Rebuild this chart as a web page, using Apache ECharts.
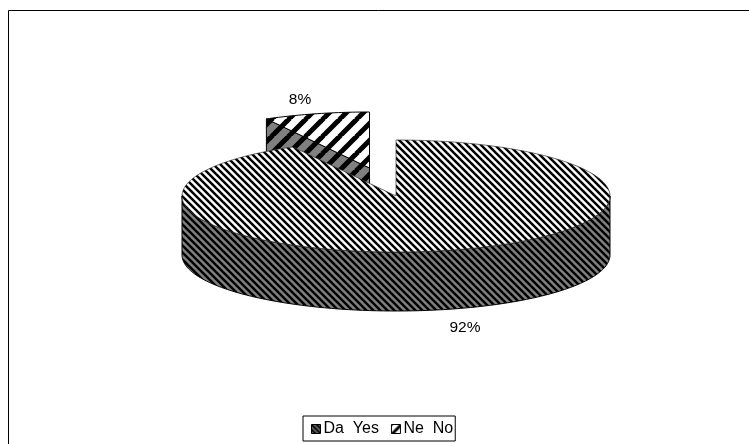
<!DOCTYPE html>
<html><head><meta charset="utf-8">
<style>html,body{margin:0;padding:0;background:#fff}#c{width:749px;height:444px}</style>
<script src="https://cdn.jsdelivr.net/npm/echarts@6/dist/echarts.min.js"></script>
</head><body><div id="c"></div>
<script>
const categories = ['Da  Yes', 'Ne  No'];
const values = [92, 8];

function hatch(period, dir, bg, fg, lw) {
  const c = document.createElement('canvas');
  c.width = c.height = period;
  const g = c.getContext('2d');
  g.fillStyle = bg; g.fillRect(0, 0, period, period);
  g.strokeStyle = fg; g.lineWidth = lw;
  for (let k = -1; k <= 1; k++) {
    g.beginPath();
    if (dir > 0) { g.moveTo(k * period - 1, -1); g.lineTo(k * period + period + 1, period + 1); }
    else { g.moveTo(k * period - 1, period + 1); g.lineTo(k * period + period + 1, -1); }
    g.stroke();
  }
  return { image: c, repeat: 'repeat' };
}
const fillYesTop = hatch(7, 1, '#ffffff', '#000000', 2.5);
const fillYesSide = hatch(7, 1, '#808080', '#000000', 2.5);
const fillNoTop = hatch(17, -1, '#ffffff', '#000000', 5);
const fillNoSide = hatch(17, -1, '#808080', '#000000', 5);
const fillSwatchYes = hatch(5, 1, '#808080', '#000000', 2);
const fillSwatchNo = hatch(10, -1, '#ffffff', '#000000', 3);

const total = values.reduce((a, b) => a + b, 0);
const CX = 396, CY = 196, RX = 214, RY = 56, DEPTH = 59;
const OFFX = -26.5, OFFY = -28;

function pt(cx, cy, a) { return [cx + RX * Math.sin(a), cy - RY * Math.cos(a)]; }
function arc(cx, cy, a0, a1, dy) {
  const n = Math.max(4, Math.ceil(Math.abs(a1 - a0) * 60)), out = [];
  for (let i = 0; i <= n; i++) { const p = pt(cx, cy, a0 + (a1 - a0) * i / n); out.push([p[0], p[1] + (dy || 0)]); }
  return out;
}
function poly(points, fill, stroke, lineWidth) {
  return { type: 'polygon', shape: { points }, style: { fill, stroke: stroke || '#000', lineWidth: lineWidth || 1 } };
}
function label(text, x, y) {
  return { type: 'text', style: { text, x, y, fill: '#000', font: '15.5px "Liberation Sans"', align: 'center', verticalAlign: 'middle' }, z2: 10 };
}
const TAU = Math.PI * 2;
const yesEnd = values[0] / total * TAU;

function renderYes(params, api) {
  const cx = CX, cy = CY;
  const kids = [];
  const a0 = Math.PI / 2, a1 = Math.PI * 1.5;
  const wall = arc(cx, cy, a0, a1, 0).concat(arc(cx, cy, a1, a0, DEPTH));
  kids.push(poly(wall, fillYesSide));
  kids.push(poly([[cx, cy]].concat(arc(cx, cy, 0, yesEnd)), fillYesTop, '#333', 0.7));
  kids.push(label(Math.round(api.value(0) / total * 100) + '%', 465, 328));
  return { type: 'group', children: kids };
}
function renderNo(params, api) {
  const cx = CX + OFFX, cy = CY + OFFY;
  const kids = [];
  const edge = pt(cx, cy, yesEnd);
  kids.push(poly([[edge[0], edge[1]], [cx, cy], [cx, cy + DEPTH], [edge[0], edge[1] + DEPTH]], fillNoSide));
  kids.push(poly([[cx, cy]].concat(arc(cx, cy, yesEnd, TAU)), fillNoTop));
  kids.push(label(Math.round(api.value(0) / total * 100) + '%', 300, 100));
  return { type: 'group', children: kids };
}

const chart = echarts.init(document.getElementById('c'), null, { renderer: 'canvas' });
chart.setOption({
  backgroundColor: '#fff',
  animation: false,
  graphic: [
    { type: 'line', shape: { x1: 8.5, y1: 10.5, x2: 749, y2: 10.5 }, style: { stroke: '#000', lineWidth: 1 }, silent: true },
    { type: 'line', shape: { x1: 8.5, y1: 10.5, x2: 8.5, y2: 444 }, style: { stroke: '#000', lineWidth: 1 }, silent: true }
  ],
  legend: {
    left: 303, top: 416,
    padding: [5, 2, 4, 8],
    borderColor: '#000', borderWidth: 1, backgroundColor: '#fff',
    itemWidth: 9, itemHeight: 9, itemGap: 12,
    icon: 'rect',
    textStyle: { fontFamily: 'Liberation Sans', fontSize: 16, color: '#000', padding: [0, 0, 0, -2] },
    data: categories.map((name, i) => ({
      name,
      itemStyle: { color: i === 0 ? fillSwatchYes : fillSwatchNo, borderColor: '#000', borderWidth: 1 }
    }))
  },
  series: [
    { type: 'custom', name: categories[1], coordinateSystem: 'none', z: 2, data: [[values[1]]], renderItem: renderNo, silent: true,
      itemStyle: { color: '#fff' } },
    { type: 'custom', name: categories[0], coordinateSystem: 'none', z: 3, data: [[values[0]]], renderItem: renderYes, silent: true,
      itemStyle: { color: '#555' } }
  ]
});
</script></body></html>
